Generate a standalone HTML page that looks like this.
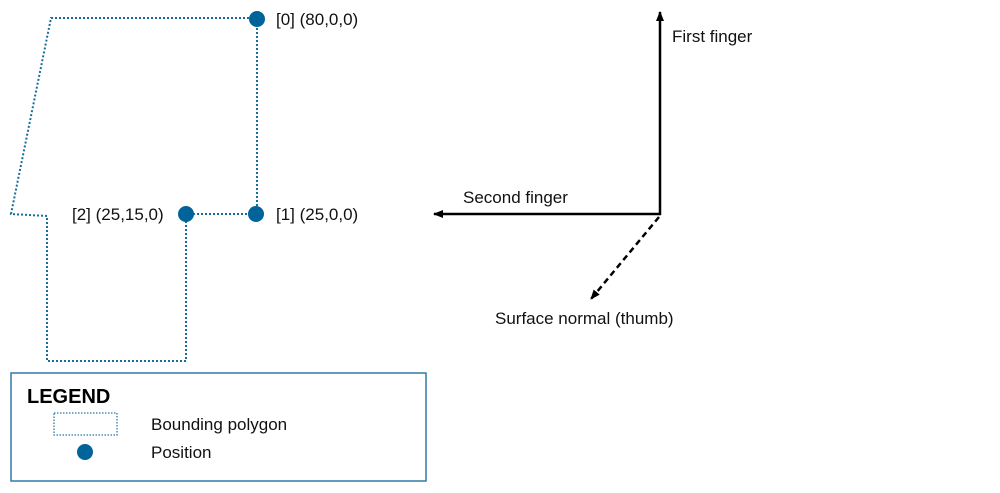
<!DOCTYPE html>
<html><head><style>
body{margin:0;background:#fff;}
svg{display:block;}
text{font-family:"Liberation Sans",Arial,sans-serif;font-size:17px;fill:#111;}
</style></head><body>
<svg width="1000" height="493" viewBox="0 0 1000 493">
<defs>
<marker id="ah" markerWidth="10" markerHeight="8" refX="9" refY="4" orient="auto" markerUnits="userSpaceOnUse">
<path d="M0,0 L10,4 L0,8 z" fill="#000"/>
</marker>
</defs>
<polygon points="51,18 257,18 257,214 186,214 186,361 47,361 47,216 11,214" fill="none" stroke="#1a6d9a" stroke-width="2" stroke-dasharray="2,2"/>
<circle cx="257" cy="19" r="8" fill="#00639a"/>
<circle cx="256" cy="214" r="8" fill="#00639a"/>
<circle cx="186" cy="214" r="8" fill="#00639a"/>
<text x="276" y="25">[0] (80,0,0)</text>
<text x="276" y="220">[1] (25,0,0)</text>
<text x="72" y="220">[2] (25,15,0)</text>
<line x1="660" y1="215" x2="660" y2="12" stroke="#000" stroke-width="2.5" marker-end="url(#ah)"/>
<line x1="661" y1="214" x2="434" y2="214" stroke="#000" stroke-width="2.5" marker-end="url(#ah)"/>
<line x1="659" y1="217" x2="591" y2="299" stroke="#000" stroke-width="2.5" stroke-dasharray="6,4" marker-end="url(#ah)"/>
<text x="672" y="42">First finger</text>
<text x="463" y="203">Second finger</text>
<text x="495" y="324">Surface normal (thumb)</text>
<rect x="11" y="373" width="415" height="108" fill="none" stroke="#2f7aa6" stroke-width="1.5"/>
<text x="27" y="403" style="font-weight:bold;font-size:20px;fill:#000">LEGEND</text>
<rect x="54" y="413" width="63" height="22" fill="none" stroke="#2a78a6" stroke-width="1.3" stroke-dasharray="1.5,1.5"/>
<circle cx="85" cy="452" r="8" fill="#00639a"/>
<text x="151" y="430">Bounding polygon</text>
<text x="151" y="458">Position</text>
</svg>
</body></html>
